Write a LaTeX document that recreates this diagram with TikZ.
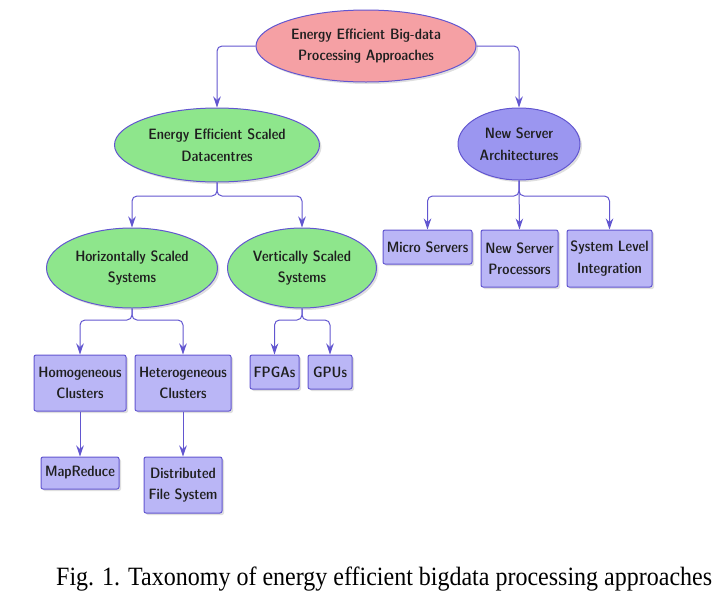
\documentclass[tikz,border=0pt]{standalone}
\usepackage{fontspec}
\newfontfamily\capfont{Liberation Serif}
\newfontfamily\dcfont[Extension=.otf]{lmsansdemicond10-regular}
\newcommand{\boxfont}{\dcfont\fontsize{15}{21.5}\selectfont}
\usetikzlibrary{shapes.geometric,shadows,arrows.meta}
\definecolor{edgec}{RGB}{98,86,208}
\definecolor{pinkf}{RGB}{245,160,164}
\definecolor{greenf}{RGB}{142,230,140}
\definecolor{bluef}{RGB}{155,150,240}
\definecolor{boxf}{RGB}{186,182,246}
\tikzset{
  base/.style={draw=edgec, line width=1pt, align=center, inner sep=0pt,
    font=\boxfont, text=black!88,
    drop shadow={opacity=0.25, shadow xshift=2pt, shadow yshift=-2pt}},
  ell/.style={base, ellipse},
  bx/.style={base, rectangle, rounded corners=2pt},
  arr/.style={draw=edgec, line width=1pt, rounded corners=5pt,
    -{Stealth[length=11pt,width=7.5pt]}},
}
\begin{document}
\begin{tikzpicture}[x=1pt,y=-1pt]
\useasboundingbox (0,0) rectangle (723,606);
% top level
\node[ell, fill=pinkf, minimum width=220, minimum height=72] (root) at (366,46) {Energy Efficient Big-data\\Processing Approaches};
\node[ell, fill=greenf, minimum width=205, minimum height=74] (dc) at (217,145) {Energy Efficient Scaled\\Datacentres};
\node[ell, fill=bluef, minimum width=122, minimum height=72] (nsa) at (519,144) {New Server\\Architectures};
\node[ell, fill=greenf, minimum width=171, minimum height=80] (hs) at (132,268) {Horizontally Scaled\\Systems};
\node[ell, fill=greenf, minimum width=149, minimum height=80] (vs) at (302,268) {Vertically Scaled\\Systems};
% boxes
\node[bx, fill=boxf, minimum width=89, minimum height=34] (ms) at (427.5,247) {Micro Servers};
\node[bx, fill=boxf, minimum width=77, minimum height=57] (nsp) at (519.5,258.5) {New Server\\Processors};
\node[bx, fill=boxf, minimum width=85, minimum height=57] (sli) at (609.5,258.5) {System Level\\Integration};
\node[bx, fill=boxf, minimum width=92, minimum height=56] (hc) at (80,383) {Homogeneous\\Clusters};
\node[bx, fill=boxf, minimum width=96, minimum height=56] (htc) at (183,383) {Heterogeneous\\Clusters};
\node[bx, fill=boxf, minimum width=49, minimum height=34] (fp) at (274.5,372) {FPGAs};
\node[bx, fill=boxf, minimum width=44, minimum height=34] (gp) at (330,372) {GPUs};
\node[bx, fill=boxf, minimum width=78, minimum height=32] (mr) at (80,473) {MapReduce};
\node[bx, fill=boxf, minimum width=78, minimum height=56] (dfs) at (183,485) {Distributed\\File System};
% junctions
\coordinate (jdc) at (217,196);
\coordinate (jnsa) at (519,196);
\coordinate (jhs) at (132,320);
\coordinate (jvs) at (302,320);
% connectors
\draw[arr] (root.west) -| (dc.north);
\draw[arr] (root.east) -| (nsa.north);
\draw[arr] (dc.south) -- (jdc) -| (hs.north);
\draw[arr] (dc.south) -- (jdc) -| (vs.north);
\draw[arr] (nsa.south) -- (jnsa) -| (ms.north);
\draw[arr] (nsa.south) -- (nsp.north);
\draw[arr] (nsa.south) -- (jnsa) -| (sli.north);
\draw[arr] (hs.south) -- (jhs) -| (hc.north);
\draw[arr] (hs.south) -- (jhs) -| (htc.north);
\draw[arr] (vs.south) -- (jvs) -| (fp.north);
\draw[arr] (vs.south) -- (jvs) -| (gp.north);
\draw[arr] (hc.south) -- (mr.north);
\draw[arr] (htc.south) -- (dfs.north);
% caption
\node[anchor=base west, inner sep=0pt, font=\capfont\fontsize{24}{28}\selectfont] (cap) at (56,585) {\scalebox{1}[1.1]{Fig. 1. Taxonomy of energy efficient bigdata processing approaches}};
\end{tikzpicture}
\end{document}
